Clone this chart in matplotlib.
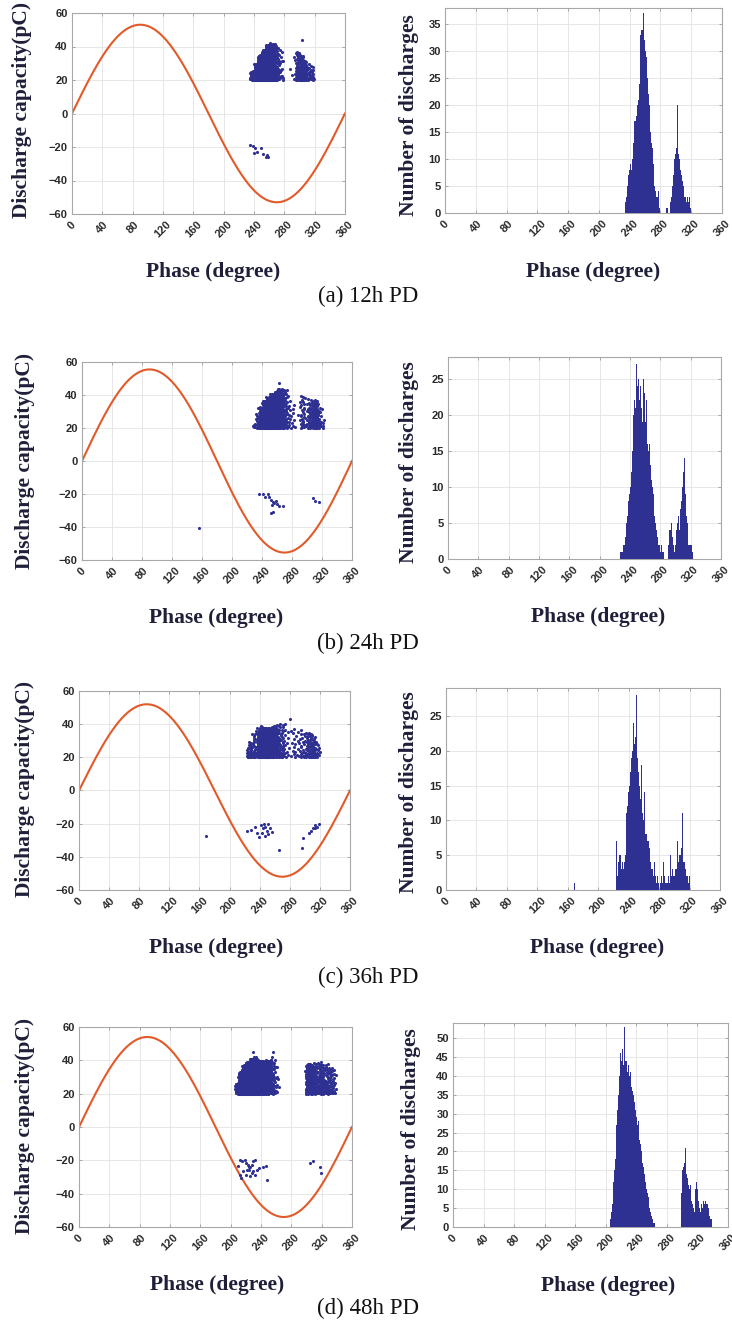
import numpy as np
import matplotlib
matplotlib.use("Agg")
import matplotlib.pyplot as plt

# ---------------- data ----------------
phase_ticks = list(range(0, 361, 40))
capacity_ticks = [-60, -40, -20, 0, 20, 40, 60]
captions = ["(a) 12h PD", "(b) 24h PD", "(c) 36h PD", "(d) 48h PD"]
sine_amplitude = [53, 55.5, 52, 54]   # pC, reference voltage curve amplitude

# Number of discharges per 1-degree phase bin (contiguous from *_hist_start)
a_hist_start = 234
a_hist_counts = [2, 3, 4, 5, 7, 8, 8, 9, 8, 10, 13, 16, 17, 17, 18, 18, 20, 21, 24, 28,
                 33, 34, 34, 37, 34, 32, 30, 29, 27, 25, 22, 20, 17, 15, 13, 12, 9, 7, 5, 4,
                 3, 2, 3, 4, 1, 0, 0, 0, 0, 0, 0, 0, 0, 1, 0, 1, 0, 0, 0,
                 2, 3, 5, 7, 9, 10, 11, 12, 13, 20, 11, 10, 9, 8, 7, 6, 5, 4, 3, 3,
                 2, 3, 3, 2, 3, 2, 1]
a_hist_isolated = []

b_hist_start = 227
b_hist_counts = [1, 1, 1, 1, 2, 2, 3, 3, 5, 6, 7, 8, 9, 10, 12, 14, 15, 20, 22, 27,
                 21, 27, 24, 23, 25, 22, 24, 18, 21, 19, 25, 21, 23, 19, 22, 17, 16, 15, 16, 14,
                 13, 11, 10, 9, 8, 6, 5, 4, 3, 3, 2, 2, 1, 1, 2, 1, 1,
                 1, 0, 0, 1, 0, 0,
                 2, 4, 4, 4, 5, 6, 3, 2, 1, 2, 3, 4, 5, 6, 4, 4, 7, 8, 8, 10,
                 12, 14, 11, 9, 6, 5, 3, 2, 2, 2, 1, 2, 1]
b_hist_isolated = [(155, 1)]

c_hist_start = 223
c_hist_counts = [3, 7, 2, 4, 5, 4, 5, 3, 4, 7, 3, 4, 5, 4, 11, 12, 14, 13, 15, 17,
                 19, 18, 20, 24, 21, 22, 23, 28, 19, 17, 16, 15, 13, 18, 12, 11, 10, 14, 9, 8,
                 8, 7, 6, 7, 6, 4, 3, 13, 3, 2, 4, 1, 2, 1, 2, 1, 1, 0, 1, 1,
                 2, 1, 4, 1, 2, 1, 1, 2, 1, 2, 1, 5, 2, 2, 3, 2, 3, 2, 3, 3,
                 4, 7, 4, 5, 6, 5, 6, 11, 5, 4, 4, 3, 2, 4, 2, 1, 2]
c_hist_isolated = [(168, 1)]

d_hist_start = 205
d_hist_counts = [1, 2, 4, 6, 9, 12, 15, 18, 23, 27, 31, 35, 40, 43, 46, 44, 47, 45, 43, 53,
                 44, 43, 44, 41, 43, 42, 40, 41, 37, 36, 34, 35, 33, 31, 30, 29, 27, 28, 25, 23,
                 22, 20, 19, 17, 16, 14, 12, 11, 10, 9, 8, 7, 5, 4, 3, 3, 2, 1, 1,
                 0, 0, 0, 0, 0, 0, 0, 0, 0, 0, 0, 0, 0, 0, 0, 0, 0, 0, 0, 0,
                 0, 0, 0, 0, 0, 0, 0, 0, 0, 0, 0, 0, 0, 0,
                 2, 9, 15, 16, 21, 17, 21, 14, 13, 12, 11, 10, 11, 8, 7, 6, 5, 6, 4, 10,
                 12, 15, 10, 7, 5, 4, 3, 6, 5, 7, 8, 6, 7, 6, 5, 6, 5, 3, 3, 2, 2]
d_hist_isolated = []

# Upper edge of the positive discharge cloud (pC), per 5-degree block from *_env_start
a_env_start = 230
a_env_top = [23, 26, 30, 35, 38, 41, 42, 42, 40, 37, 32, 32, 36, 37, 35, 32, 30, 28]
b_env_start = 225
b_env_top = [23, 30, 33, 37, 39, 41, 42, 44, 44, 43, 38, 36, 36, 40, 40, 38, 37, 37, 33, 26]
c_env_start = 220
c_env_top = [27, 30, 35, 38, 39, 38, 38, 39, 40, 40, 41, 42, 39, 38, 37, 37, 36, 35, 33, 29]
d_env_start = 205
d_env_top = [27, 33, 37, 39, 41, 42, 40, 40, 40, 41, 42, 38, 0, 0, 0, 0, 0, 0,
             37, 38, 38, 39, 39, 38, 38, 36, 35, 35]
threshold = 20  # pC, lower edge of the positive cloud

# Isolated positive points (phase, pC)
a_pos_extra = [(303, 44)]
b_pos_extra = [(263, 47)]
c_pos_extra = [(280, 43)]
d_pos_extra = [(230, 45), (256, 45)]

# Negative discharges (phase, pC)
a_neg_phase = [234.9, 238.4, 241.9, 240.1, 244.5, 248.9, 252.4, 255.9, 259.0, 256.8]
a_neg_amp = [-19.1, -19.7, -20.5, -23.7, -22.7, -20.7, -24.1, -26.1, -25.7, -24.9]
b_neg_phase = [236.3, 240.7, 243.8, 248.3, 249.6, 251.4, 254.1, 252.7, 255.8, 258.5,
               260.2, 262.9, 268.2, 254.1, 251.8, 308.1, 310.3, 316.1, 156.5]
b_neg_amp = [-19.7, -20.1, -21.7, -19.7, -21.7, -23.7, -24.7, -26.7, -25.7, -24.1,
             -26.1, -27.3, -27.3, -31.0, -31.8, -22.7, -24.1, -24.7, -40.4]
c_neg_phase = [168.7, 222.8, 228.1, 233.8, 236.9, 239.6, 241.4, 244.0, 245.8, 247.6,
               249.3, 251.6, 253.8, 256.0, 243.1, 247.1, 250.7, 266.2, 295.8, 298.1,
               306.0, 308.7, 311.3, 314.0, 316.7, 319.3, 313.1]
c_neg_amp = [-27.3, -24.3, -23.9, -22.3, -25.9, -27.9, -20.9, -22.9, -19.9, -21.9,
             -24.3, -26.3, -22.9, -24.9, -25.9, -27.5, -20.3, -35.9, -34.9, -28.9,
             -25.5, -24.3, -22.9, -20.9, -21.9, -19.9, -22.9]
d_neg_phase = [212.0, 215.5, 218.6, 220.8, 223.1, 224.4, 221.7, 216.4, 209.8, 225.3,
               227.5, 229.7, 231.9, 234.1, 237.6, 242.9, 246.5, 248.2, 212.0, 214.2,
               219.9, 229.7, 231.9, 304.8, 308.3, 318.0, 318.9, 228.4, 226.1, 223.9]
d_neg_amp = [-19.6, -20.6, -20.0, -21.6, -22.6, -24.2, -25.6, -26.6, -23.6, -29.6,
             -27.6, -26.6, -28.6, -25.6, -24.6, -24.2, -23.6, -31.6, -28.6, -30.6,
             -29.0, -20.2, -19.6, -21.6, -20.6, -24.2, -27.6, -22.6, -24.2, -25.8]

panels = [
    (a_hist_start, a_hist_counts, a_hist_isolated, a_env_start, a_env_top, a_pos_extra, a_neg_phase, a_neg_amp),
    (b_hist_start, b_hist_counts, b_hist_isolated, b_env_start, b_env_top, b_pos_extra, b_neg_phase, b_neg_amp),
    (c_hist_start, c_hist_counts, c_hist_isolated, c_env_start, c_env_top, c_pos_extra, c_neg_phase, c_neg_amp),
    (d_hist_start, d_hist_counts, d_hist_isolated, d_env_start, d_env_top, d_pos_extra, d_neg_phase, d_neg_amp),
]

# ---------------- layout (pixel boxes from reference) ----------------
W, H = 732, 1326
left_boxes = [(72, 13, 345, 214), (82, 362, 352, 560), (79, 691, 350, 890), (79, 1027, 352, 1227)]
right_boxes = [(445, 8, 722, 213), (448, 357, 721, 559), (446, 688, 720, 890), (453, 1023, 728, 1227)]
left_xlab_x = [0.516, 0.498, 0.507, 0.507]
right_xlab_x = [0.536, 0.551, 0.551, 0.564]
left_ylab = [(-0.1465, 0.517), (-0.174, 0.5), (-0.162, 0.508), (-0.161, 0.505)]
right_ylab = [(-0.094, 0.478), (-0.106, 0.478), (-0.0985, 0.483), (-0.116, 0.48)]
caption_y = [296, 643, 977, 1308]

BLUE = "#2e3192"
SINE = "#e35a2a"
LABEL_C = "#1f1f3a"
TICK_C = "#2a2a2a"
SERIF = ["Liberation Serif", "DejaVu Serif"]
SANS = ["Liberation Sans", "DejaVu Sans"]
LABEL_KW = dict(fontsize=15.5, fontweight="bold", family=SERIF, color=LABEL_C)


def vdc(n, base):
    q, denom = 0.0, 1.0
    while n:
        n, r = divmod(n, base)
        denom *= base
        q += r / denom
    return q


def box_to_rect(b):
    x0, y0, x1, y1 = b
    return [x0 / W, 1 - y1 / H, (x1 - x0) / W, (y1 - y0) / H]


def style_axes(ax):
    ax.set_xlim(0, 360)
    ax.set_xticks(phase_ticks)
    ax.set_xticklabels([str(t) for t in phase_ticks], rotation=45, ha="center", va="top",
                       fontsize=8, fontweight="bold", color=TICK_C, family=SANS)
    for lab in ax.get_yticklabels():
        lab.set_fontsize(8)
        lab.set_fontweight("bold")
        lab.set_color(TICK_C)
        lab.set_family(SANS)
    ax.grid(True, color="#e3e3e3", linewidth=0.6)
    ax.set_axisbelow(True)
    for s in ax.spines.values():
        s.set_color("#a8a8a8")
        s.set_linewidth(0.8)
    ax.tick_params(direction="in", length=2, width=0.6, color="#9a9a9a",
                   top=True, right=True)
    ax.tick_params(axis="x", pad=4)
    ax.tick_params(axis="y", pad=3)


fig = plt.figure(figsize=(W / 100, H / 100), dpi=100)

for i, (hs, hc, hiso, es, et, pex, nph, namp) in enumerate(panels):
    # ----- left: phase-resolved scatter -----
    ax = fig.add_axes(box_to_rect(left_boxes[i]))
    xs = np.linspace(0, 360, 721)
    ax.plot(xs, sine_amplitude[i] * np.sin(np.deg2rad(xs)), color=SINE, lw=1.5, zorder=2)

    px, py = [], []
    k = 1
    env_end = es + 5 * len(et)
    for j, n in enumerate(hc):
        d = hs + j
        if d < es or d >= env_end:
            continue
        top = et[(d - es) // 5]
        for _ in range(n):
            px.append(d + vdc(k, 3))
            py.append(threshold + (top - threshold) * vdc(k, 2) ** 1.4)
            k += 1
    px += [p for p, _ in pex]
    py += [a for _, a in pex]
    ax.scatter(px, py, s=5, color=BLUE, linewidths=0, zorder=3)
    ax.scatter(nph, namp, s=5, color=BLUE, linewidths=0, zorder=3)

    ax.set_ylim(-60, 60)
    ax.set_yticks(capacity_ticks)
    style_axes(ax)
    ax.set_xlabel("Phase (degree)", **LABEL_KW)
    ax.xaxis.set_label_coords(left_xlab_x[i], -0.24)
    ax.xaxis.label.set_va("top")
    ax.set_ylabel("Discharge capacity(pC)", **LABEL_KW)
    ax.yaxis.set_label_coords(*left_ylab[i])

    # ----- right: histogram -----
    axh = fig.add_axes(box_to_rect(right_boxes[i]))
    phases = [hs + j for j in range(len(hc))] + [p for p, _ in hiso]
    counts = list(hc) + [c for _, c in hiso]
    axh.bar(phases, counts, width=1.0, align="edge", color=BLUE, edgecolor="none", zorder=3)
    ymax = max(counts) + 1
    axh.set_ylim(0, ymax)
    axh.set_yticks(list(range(0, ymax, 5)))
    style_axes(axh)
    axh.set_xlabel("Phase (degree)", **LABEL_KW)
    axh.xaxis.set_label_coords(right_xlab_x[i], -0.24)
    axh.xaxis.label.set_va("top")
    axh.set_ylabel("Number of discharges", **LABEL_KW)
    axh.yaxis.set_label_coords(*right_ylab[i])

    fig.text(368 / W, 1 - caption_y[i] / H, captions[i], ha="center", va="center",
             fontsize=16.5, family=SERIF, color="#111111")

fig.savefig("out.png", dpi=100)
